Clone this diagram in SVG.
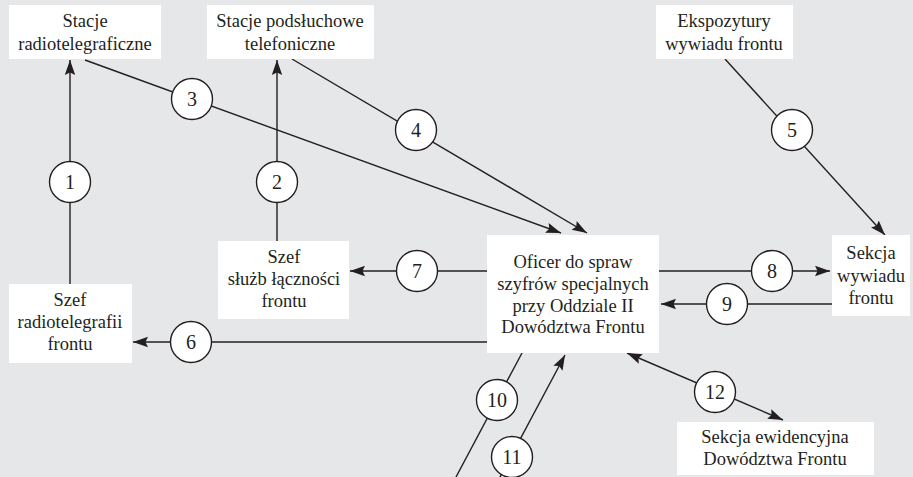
<svg xmlns="http://www.w3.org/2000/svg" width="913" height="477" viewBox="0 0 913 477">
<style>
.box{fill:#ffffff;stroke:none}
.t{font-family:"Liberation Serif","Times New Roman",serif;font-size:18.5px;fill:#231f20;text-anchor:middle}
.n{font-family:"Liberation Serif","Times New Roman",serif;font-size:20px;fill:#231f20;text-anchor:middle}
.c{fill:none;stroke:#231f20;stroke-width:1.4}
.lab{fill:#ffffff;stroke:#231f20;stroke-width:1.4}
</style>
<defs>
<marker id="ah" markerUnits="userSpaceOnUse" markerWidth="16" markerHeight="12" refX="15" refY="6" orient="auto">
<path d="M0,0.8 L15,6 L0,11.2 L2.5,6 z" fill="#231f20"/>
</marker>
<marker id="ahs" markerUnits="userSpaceOnUse" markerWidth="16" markerHeight="12" refX="15" refY="6" orient="auto-start-reverse">
<path d="M0,0.8 L15,6 L0,11.2 L2.5,6 z" fill="#231f20"/>
</marker>
</defs>
<rect width="913" height="477" fill="#e6e7e9"/>

<g id="connectors">
<line class="c" x1="70" y1="284" x2="70" y2="60" marker-end="url(#ah)"/>
<line class="c" x1="277" y1="241" x2="277" y2="60" marker-end="url(#ah)"/>
<line class="c" x1="85" y1="60" x2="561" y2="233" marker-end="url(#ah)"/>
<line class="c" x1="292" y1="59" x2="587" y2="233" marker-end="url(#ah)"/>
<line class="c" x1="725" y1="59" x2="885" y2="235" marker-end="url(#ah)"/>
<line class="c" x1="487" y1="342" x2="133" y2="342" marker-end="url(#ah)"/>
<line class="c" x1="487" y1="271" x2="350" y2="271" marker-end="url(#ah)"/>
<line class="c" x1="659" y1="271" x2="830" y2="271" marker-end="url(#ah)"/>
<line class="c" x1="832" y1="304" x2="661" y2="304" marker-end="url(#ah)"/>
<line class="c" x1="522" y1="353" x2="456" y2="477"/>
<line class="c" x1="500" y1="477" x2="565" y2="355" marker-end="url(#ah)"/>
<line class="c" x1="627" y1="353" x2="783" y2="420" marker-start="url(#ahs)" marker-end="url(#ah)"/>

<g id="label-1"><circle class="lab" cx="70" cy="182" r="20.5"/><text class="n" x="70" y="189">1</text></g>
<g id="label-2"><circle class="lab" cx="277" cy="182" r="20.5"/><text class="n" x="277" y="189">2</text></g>
<g id="label-3"><circle class="lab" cx="192" cy="99" r="20.5"/><text class="n" x="192" y="106">3</text></g>
<g id="label-4"><circle class="lab" cx="416" cy="130" r="20.5"/><text class="n" x="416" y="137">4</text></g>
<g id="label-5"><circle class="lab" cx="792" cy="130" r="20.5"/><text class="n" x="792" y="137">5</text></g>
<g id="label-6"><circle class="lab" cx="191" cy="342" r="20.5"/><text class="n" x="191" y="349">6</text></g>
<g id="label-7"><circle class="lab" cx="417" cy="271" r="20.5"/><text class="n" x="417" y="278">7</text></g>
<g id="label-8"><circle class="lab" cx="772" cy="271" r="20.5"/><text class="n" x="772" y="278">8</text></g>
<g id="label-9"><circle class="lab" cx="727" cy="304" r="20.5"/><text class="n" x="727" y="311">9</text></g>
<g id="label-10"><circle class="lab" cx="497" cy="400" r="20.5"/><text class="n" x="497" y="407">10</text></g>
<g id="label-11"><circle class="lab" cx="512" cy="457" r="20.5"/><text class="n" x="512" y="464">11</text></g>
<g id="label-12"><circle class="lab" cx="715" cy="392" r="20.5"/><text class="n" x="715" y="399">12</text></g>
</g>

<g id="stacje-radiotelegraficzne">
<rect class="box" x="9" y="5" width="152" height="54"/>
<text class="t" x="85" y="27">Stacje</text>
<text class="t" x="85" y="50">radiotelegraficzne</text>
</g>
<g id="stacje-podsluchowe">
<rect class="box" x="207" y="5" width="167" height="54"/>
<text class="t" x="290" y="27">Stacje podsłuchowe</text>
<text class="t" x="290" y="50">telefoniczne</text>
</g>
<g id="ekspozytury">
<rect class="box" x="656" y="5" width="137" height="54"/>
<text class="t" x="724" y="27">Ekspozytury</text>
<text class="t" x="724" y="50">wywiadu frontu</text>
</g>
<g id="szef-sluzb">
<rect class="box" x="218" y="241" width="131" height="78"/>
<text class="t" x="284" y="263">Szef</text>
<text class="t" x="284" y="285">służb łączności</text>
<text class="t" x="284" y="307">frontu</text>
</g>
<g id="szef-radiotelegrafii">
<rect class="box" x="9" y="284" width="123" height="79"/>
<text class="t" x="70" y="306">Szef</text>
<text class="t" x="70" y="328">radiotelegrafii</text>
<text class="t" x="70" y="350">frontu</text>
</g>
<g id="oficer">
<rect class="box" x="487" y="235" width="172" height="118"/>
<text class="t" x="573" y="268">Oficer do spraw</text>
<text class="t" x="573" y="290">szyfrów specjalnych</text>
<text class="t" x="573" y="312">przy Oddziale II</text>
<text class="t" x="573" y="333">Dowództwa Frontu</text>
</g>
<g id="sekcja-wywiadu">
<rect class="box" x="832" y="235" width="78" height="81"/>
<text class="t" x="871" y="259">Sekcja</text>
<text class="t" x="871" y="282">wywiadu</text>
<text class="t" x="871" y="304">frontu</text>
</g>
<g id="sekcja-ewidencyjna">
<rect class="box" x="677" y="422" width="197" height="53"/>
<text class="t" x="775" y="443">Sekcja ewidencyjna</text>
<text class="t" x="775" y="465">Dowództwa Frontu</text>
</g>
</svg>
